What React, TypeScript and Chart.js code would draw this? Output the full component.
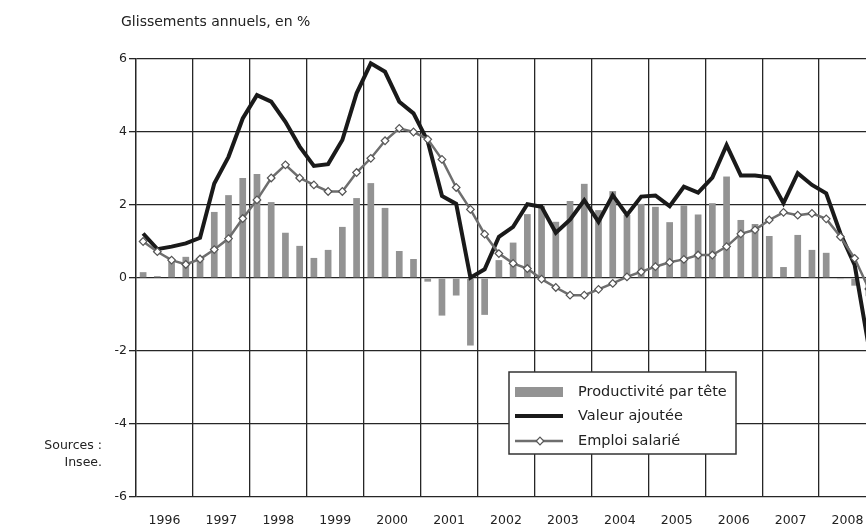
import React, { useEffect, useRef } from "react";
import { Chart, registerables } from "chart.js";

Chart.register(...registerables);

// ---- Data (quarterly, 1996 T1 -> 2008 T4) ----
const years = ["1996", "1997", "1998", "1999", "2000", "2001", "2002", "2003", "2004", "2005", "2006", "2007", "2008"];
const quarterNames = ["T1", "T2", "T3", "T4"];
const categories = years.flatMap((y) => quarterNames.map((q) => `${y} ${q}`));

const productivite = [
  0.16, 0.05, 0.49, 0.58, 0.52, 1.81, 2.27, 2.74, 2.85, 2.08,
  1.24, 0.88, 0.55, 0.77, 1.4, 2.19, 2.6, 1.92, 0.74, 0.52,
  -0.1, -1.03, -0.48, -1.85, -1.01, 0.49, 0.97, 1.75, 1.97, 1.54,
  2.11, 2.58, 1.86, 2.38, 1.73, 2.03, 1.95, 1.53, 1.99, 1.74,
  2.05, 2.78, 1.59, 1.48, 1.15, 0.3, 1.18, 0.77, 0.69, -0.03, -0.21, -0.5,
];

const valeurAjoutee = [
  1.22, 0.79, 0.86, 0.95, 1.1, 2.59, 3.32, 4.37, 5.01, 4.83,
  4.28, 3.6, 3.07, 3.12, 3.78, 5.06, 5.88, 5.65, 4.83, 4.51,
  3.75, 2.25, 2.03, 0.01, 0.24, 1.13, 1.4, 2.02, 1.95, 1.24,
  1.6, 2.13, 1.54, 2.27, 1.73, 2.23, 2.26, 1.97, 2.5, 2.34,
  2.75, 3.64, 2.81, 2.81, 2.76, 2.05, 2.87, 2.55, 2.32, 1.22, 0.36, -1.9,
];

const emploiSalarie = [
  1.0, 0.72, 0.49, 0.37, 0.52, 0.78, 1.08, 1.63, 2.14, 2.74,
  3.1, 2.74, 2.55, 2.37, 2.37, 2.89, 3.28, 3.76, 4.1, 4.0,
  3.8, 3.25, 2.48, 1.88, 1.2, 0.67, 0.4, 0.26, -0.03, -0.26,
  -0.47, -0.47, -0.31, -0.15, 0.03, 0.17, 0.31, 0.43, 0.51, 0.63,
  0.63, 0.86, 1.21, 1.32, 1.59, 1.8, 1.72, 1.77, 1.62, 1.13, 0.54, -0.3,
];

const yTicks = [-6, -4, -2, 0, 2, 4, 6];

const seriesNames = ["Productivité par tête", "Valeur ajoutée", "Emploi salarié"];
const titleText = "Glissements annuels, en %";
const sourceLines = ["Sources :", "Insee."];

// ---- Styles ----
const FONT = "'DejaVu Sans', sans-serif";
const GRID = "#262626";
const TEXT = "#222222";
const BAR = "#939393";
const DARK = "#1a1a1a";
const GREYLINE = "#6e6e6e";

const legendPlugin = {
  id: "customLegend",
  afterDraw(chart: any) {
    const ctx = chart.ctx as CanvasRenderingContext2D;
    const x0 = 509, y0 = 372, w = 227, h = 82;
    ctx.save();
    ctx.fillStyle = "#ffffff";
    ctx.fillRect(x0, y0, w, h);
    ctx.strokeStyle = "#333333";
    ctx.lineWidth = 1.5;
    ctx.strokeRect(x0, y0, w, h);

    const sx = 515, ex = 563, tx = 578;
    const rows = [392, 416, 441];
    // bar swatch
    ctx.fillStyle = BAR;
    ctx.fillRect(sx, rows[0] - 5, ex - sx, 10);
    // black line
    ctx.strokeStyle = DARK;
    ctx.lineWidth = 4;
    ctx.beginPath();
    ctx.moveTo(sx, rows[1]);
    ctx.lineTo(ex, rows[1]);
    ctx.stroke();
    // grey line with diamond
    ctx.strokeStyle = GREYLINE;
    ctx.lineWidth = 2.5;
    ctx.beginPath();
    ctx.moveTo(sx, rows[2]);
    ctx.lineTo(ex, rows[2]);
    ctx.stroke();
    const cx = 540, cy = rows[2], r = 3.8;
    ctx.beginPath();
    ctx.moveTo(cx, cy - r);
    ctx.lineTo(cx + r, cy);
    ctx.lineTo(cx, cy + r);
    ctx.lineTo(cx - r, cy);
    ctx.closePath();
    ctx.fillStyle = "#ffffff";
    ctx.fill();
    ctx.strokeStyle = "#555555";
    ctx.lineWidth = 1.2;
    ctx.stroke();

    ctx.fillStyle = TEXT;
    ctx.font = `14.5px ${FONT}`;
    ctx.textBaseline = "middle";
    ctx.textAlign = "left";
    seriesNames.forEach((n, i) => ctx.fillText(n, tx, rows[i]));
    ctx.restore();
  },
};

export default function App() {
  const canvasRef = useRef<HTMLCanvasElement | null>(null);

  useEffect(() => {
    if (!canvasRef.current) return;
    const chart = new Chart(canvasRef.current, {
      type: "bar",
      data: {
        labels: categories,
        datasets: [
          {
            type: "line",
            label: seriesNames[2],
            data: emploiSalarie,
            borderColor: GREYLINE,
            borderWidth: 2.5,
            pointStyle: "rectRot",
            pointRadius: 3.8,
            pointBackgroundColor: "#ffffff",
            pointBorderColor: "#555555",
            pointBorderWidth: 1.2,
            tension: 0,
            order: 1,
          } as any,
          {
            type: "line",
            label: seriesNames[1],
            data: valeurAjoutee,
            borderColor: DARK,
            borderWidth: 4,
            pointRadius: 0,
            tension: 0,
            borderJoinStyle: "miter",
            order: 2,
          } as any,
          {
            type: "bar",
            label: seriesNames[0],
            data: productivite,
            backgroundColor: BAR,
            borderWidth: 0,
            barPercentage: 0.47,
            categoryPercentage: 1,
            order: 3,
          } as any,
        ],
      },
      options: {
        responsive: false,
        animation: false,
        layout: { padding: { top: 59, right: 24, left: 0, bottom: 0 } },
        plugins: {
          legend: { display: false },
          tooltip: { enabled: false },
        },
        scales: {
          x: {
            type: "category",
            offset: true,
            grid: {
              offset: true,
              drawTicks: false,
              color: (c: any) => (c.index % 4 === 0 ? GRID : "rgba(0,0,0,0)"),
              lineWidth: 1.3,
            },
            border: { display: false },
            ticks: {
              autoSkip: false,
              maxRotation: 0,
              minRotation: 0,
              padding: 16,
              labelOffset: 7.1,
              color: TEXT,
              font: { family: FONT, size: 12.5 },
              callback: (_v: any, i: number) => (i % 4 === 1 ? years[Math.floor(i / 4)] : ""),
            },
            afterFit: (s: any) => {
              s.height = 31;
            },
          },
          y: {
            min: yTicks[0],
            max: yTicks[yTicks.length - 1],
            afterBuildTicks: (s: any) => {
              s.ticks = yTicks.map((v) => ({ value: v }));
            },
            grid: { color: GRID, lineWidth: 1.3, tickLength: 7, drawTicks: true, tickColor: GRID },
            border: { color: GRID, width: 1.3 },
            ticks: {
              padding: 2,
              color: TEXT,
              font: { family: FONT, size: 12.5 },
              callback: (v: any) => String(v),
            },
            afterFit: (s: any) => {
              s.width = 136;
            },
          },
        },
      },
      plugins: [legendPlugin],
    });
    return () => chart.destroy();
  }, []);

  return (
    <div
      style={{
        position: "fixed",
        left: 0,
        top: 0,
        width: 866,
        height: 528,
        overflow: "hidden",
        background: "#ffffff",
      }}
    >
      <canvas ref={canvasRef} width={900} height={528} style={{ width: 900, height: 528, display: "block" }} />
      <div
        style={{
          position: "absolute",
          left: 121,
          top: 13,
          font: `14px ${FONT}`,
          color: TEXT,
          whiteSpace: "nowrap",
        }}
      >
        {titleText}
      </div>
      <div
        style={{
          position: "absolute",
          right: 866 - 102,
          top: 436,
          font: `12.5px ${FONT}`,
          lineHeight: "17px",
          color: TEXT,
          textAlign: "right",
          whiteSpace: "nowrap",
        }}
      >
        {sourceLines.map((l, i) => (
          <div key={i}>{l}</div>
        ))}
      </div>
    </div>
  );
}
